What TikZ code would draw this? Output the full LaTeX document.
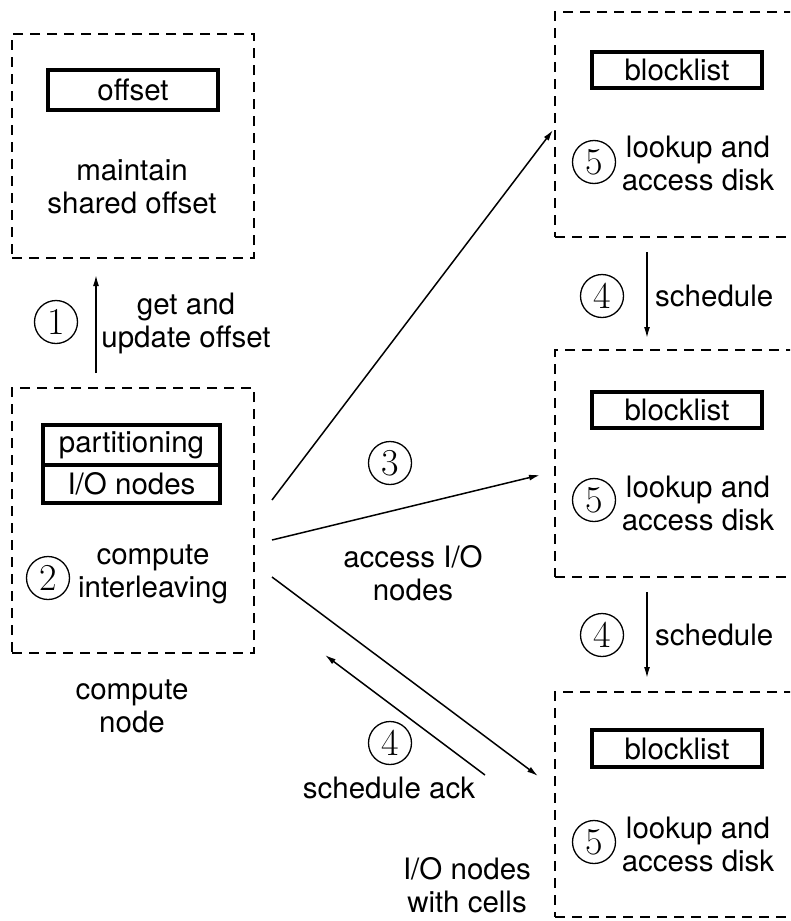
\documentclass[tikz,border=0pt]{standalone}
\usepackage{fontspec}
\setmainfont{TeX Gyre Heros}
\newfontfamily\digitfont{Latin Modern Roman}
\usetikzlibrary{arrows.meta}
\begin{document}
\begin{tikzpicture}[x=1pt,y=-1pt,
  every node/.style={font=\fontsize{29.5}{33}\selectfont},
  dbox/.style={draw, line width=2.3pt, dash pattern=on 10pt off 7pt, inner sep=0pt},
  tbox/.style={draw, line width=3.3pt, inner sep=0pt, minimum width=170pt},
  num/.style={draw, circle, line width=1.3pt, minimum size=43pt, inner sep=0pt, font=\digitfont\fontsize{38}{38}\selectfont},
  lbl/.style={align=center, inner sep=0pt},
  arr/.style={line width=1.5pt, -{Latex[length=11pt,width=6pt]}}
]
\useasboundingbox (0,0) rectangle (790,921);
\clip (0,0) rectangle (790,921);

% left boxes
\node[dbox, minimum width=242pt, minimum height=224pt] (shared) at (133,146) {};
\node[tbox, minimum height=40pt] (offset) at (133,90) {offset};
\node[lbl] (maintain) at (132,187) {maintain\\shared offset};

\node[dbox, minimum width=242pt, minimum height=265pt] (compute) at (133,520.5) {};
\node[tbox, minimum width=177pt, minimum height=40pt] (part) at (131.5,445) {partitioning};
\node[tbox, minimum width=177pt, minimum height=38pt] (ionodes) at (131.5,484) {I/O nodes};
\node[num] (n2) at (48,578) {2};
\node[lbl] (interl) at (153,574) {compute\\interleaving};
\node[lbl] (cnode) at (132,706) {compute\\node};

% step 1
\node[num] (n1) at (56,322) {1};
\node[lbl] (getupd) at (186,323) {get and\\update offset};
\coordinate (a1s) at (96,373);
\coordinate (a1e) at (96,275);
\draw[arr] (a1s) -- (a1e);

% right boxes
\node[dbox, minimum width=245pt, minimum height=225pt] (io1) at (677.5,124.5) {};
\node[tbox, minimum height=36pt] (bl1) at (677,70) {blocklist};
\node[num] (n51) at (594,162) {5};
\node[lbl] (look1) at (698,163.5) {lookup and\\access disk};

\node[dbox, minimum width=245pt, minimum height=227pt] (io2) at (677.5,463.5) {};
\node[tbox, minimum height=36pt] (bl2) at (677,410) {blocklist};
\node[num] (n52) at (594,500) {5};
\node[lbl] (look2) at (698,503.5) {lookup and\\access disk};

\node[dbox, minimum width=245pt, minimum height=225pt] (io3) at (677.5,804.5) {};
\node[tbox, minimum height=37pt] (bl3) at (677,748.5) {blocklist};
\node[num] (n53) at (594,842) {5};
\node[lbl] (look3) at (698,844.5) {lookup and\\access disk};

% schedule arrows between I/O nodes
\coordinate (s1s) at (647,252);
\coordinate (s1e) at (647,338);
\draw[arr] (s1s) -- (s1e);
\node[num] (n41) at (602,296) {4};
\node[lbl, anchor=west] (sch1) at (655,296) {schedule};

\coordinate (s2s) at (647,592);
\coordinate (s2e) at (647,678);
\draw[arr] (s2s) -- (s2e);
\node[num] (n42) at (602,635) {4};
\node[lbl, anchor=west] (sch2) at (655,635) {schedule};

% access arrows
\coordinate (aas) at (272,500);
\coordinate (aae) at (553,130);
\draw[arr] (aas) -- (aae);
\coordinate (abs) at (272,540);
\coordinate (abe) at (540,475);
\draw[arr] (abs) -- (abe);
\coordinate (acs) at (272,577);
\coordinate (ace) at (538,776);
\draw[arr] (acs) -- (ace);
\node[num] (n3) at (390,463) {3};
\node[lbl] (accio) at (413,573) {access I/O\\nodes};

% schedule ack
\coordinate (aks) at (485,775);
\coordinate (ake) at (325,655);
\draw[arr] (aks) -- (ake);
\node[num] (n43) at (390,743) {4};
\node[lbl] (sack) at (389,788) {schedule ack};

\node[lbl] (cells) at (467,885) {I/O nodes\\with cells};
\end{tikzpicture}
\end{document}
